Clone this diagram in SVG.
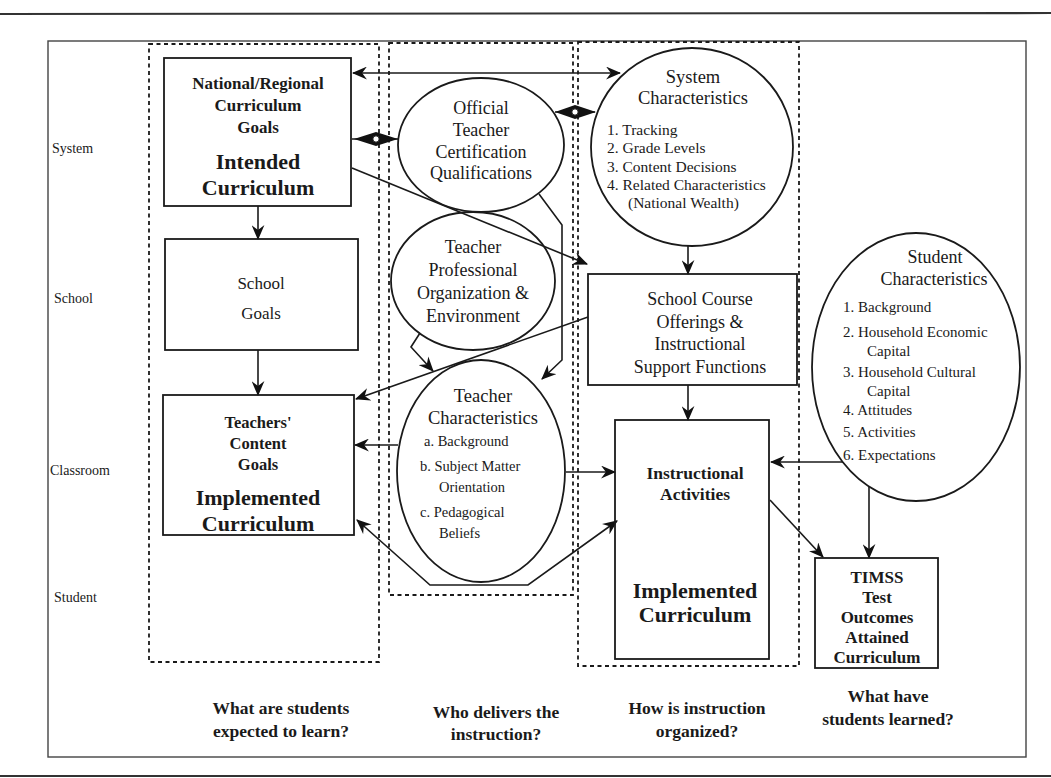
<svg xmlns="http://www.w3.org/2000/svg" width="1051" height="778" viewBox="0 0 1051 778">
<defs>
<marker id="ah" viewBox="0 0 14 12" refX="13" refY="6" markerWidth="15" markerHeight="13" markerUnits="userSpaceOnUse" orient="auto-start-reverse">
<path d="M0,0 L14,6 L0,12 L4.5,6 z" fill="#111"/>
</marker>
</defs>
<style>
text{font-family:"Liberation Serif","Times New Roman",serif;fill:#1a1a1a;dominant-baseline:central}
.c{text-anchor:middle}
.b{font-weight:bold}
.node{fill:none;stroke:#1a1a1a;stroke-width:1.8}
.dash{fill:none;stroke:#1a1a1a;stroke-width:1.8;stroke-dasharray:4 3.5}
.con{fill:none;stroke:#1a1a1a;stroke-width:1.6}
.ar{marker-end:url(#ah)}
.lab{font-size:14px}
</style>
<rect width="1051" height="778" fill="#fff"/>
<line x1="0" y1="14" x2="1051" y2="13" stroke="#333" stroke-width="2.2"/>
<line x1="0" y1="776" x2="1051" y2="776" stroke="#333" stroke-width="2.2"/>
<rect x="48" y="41" width="978" height="716" fill="none" stroke="#444" stroke-width="1.4"/>

<g id="columns">
<rect class="dash" x="149" y="44" width="230" height="618"/>
<rect class="dash" x="389" y="43" width="184" height="552"/>
<rect class="dash" x="578" y="42" width="221" height="624"/>
</g>

<g id="rowlabels" class="lab">
<text x="52" y="148">System</text>
<text x="54" y="298">School</text>
<text x="50" y="470">Classroom</text>
<text x="54" y="597">Student</text>
</g>

<g id="connectors">
<line class="con" x1="353" y1="73" x2="620" y2="73" marker-start="url(#ah)" marker-end="url(#ah)"/>
<line class="con" x1="352" y1="139" x2="398" y2="139"/>
<polygon points="354,139 376,132 398,139 376,146" fill="#111"/>
<circle cx="376" cy="139" r="3.2" fill="#fff" stroke="#111" stroke-width="1"/>
<line class="con" x1="555" y1="112" x2="595" y2="112"/>
<polygon points="555,112 575,105 596,112 575,119" fill="#111"/>
<circle cx="575" cy="112" r="3.2" fill="#fff" stroke="#111" stroke-width="1"/>
<line class="con ar" x1="352" y1="168" x2="587" y2="264"/>
<polyline class="con ar" points="539,194 562,225 562,360 542,379"/>
<polyline class="con ar" points="420,333 411,347 433,371"/>
<line class="con ar" x1="588" y1="317" x2="356" y2="399"/>
<line class="con ar" x1="398" y1="445" x2="355" y2="445"/>
<line class="con ar" x1="566" y1="472" x2="615" y2="472"/>
<polyline class="con ar" points="357,520 430,585 528,585 617,521" marker-start="url(#ah)"/>
<line class="con ar" x1="843" y1="462" x2="771" y2="462"/>
<line class="con ar" x1="770" y1="500" x2="823" y2="557"/>
<line class="con ar" x1="869" y1="487" x2="869" y2="558"/>
<line class="con ar" x1="258" y1="206" x2="258" y2="239"/>
<line class="con ar" x1="258" y1="350" x2="258" y2="395"/>
<line class="con ar" x1="688" y1="246" x2="688" y2="274"/>
<line class="con ar" x1="688" y1="385" x2="688" y2="420"/>
</g>

<g id="national">
<rect class="node" x="164" y="58" width="187" height="148"/>
<text class="c b" x="258" y="83" font-size="17">National/Regional</text>
<text class="c b" x="258" y="105" font-size="17">Curriculum</text>
<text class="c b" x="258" y="127" font-size="17">Goals</text>
<text class="c b" x="258" y="161" font-size="22">Intended</text>
<text class="c b" x="258" y="187" font-size="22">Curriculum</text>
</g>

<g id="schoolgoals">
<rect class="node" x="165" y="239" width="193" height="111"/>
<text class="c" x="261" y="283" font-size="17">School</text>
<text class="c" x="261" y="313" font-size="17">Goals</text>
</g>

<g id="teachersgoals">
<rect class="node" x="163" y="395" width="191" height="140"/>
<text class="c b" x="258" y="422" font-size="16.5">Teachers'</text>
<text class="c b" x="258" y="443" font-size="16.5">Content</text>
<text class="c b" x="258" y="464" font-size="16.5">Goals</text>
<text class="c b" x="258" y="497" font-size="22">Implemented</text>
<text class="c b" x="258" y="523" font-size="22">Curriculum</text>
</g>

<g id="official">
<ellipse class="node" cx="481" cy="145" rx="83" ry="67"/>
<text class="c" x="481" y="108" font-size="18">Official</text>
<text class="c" x="481" y="130" font-size="18">Teacher</text>
<text class="c" x="481" y="152" font-size="18">Certification</text>
<text class="c" x="481" y="173" font-size="18">Qualifications</text>
</g>

<g id="professional">
<ellipse class="node" cx="473" cy="281" rx="82" ry="69"/>
<text class="c" x="473" y="247" font-size="18">Teacher</text>
<text class="c" x="473" y="270" font-size="18">Professional</text>
<text class="c" x="473" y="293" font-size="18">Organization &amp;</text>
<text class="c" x="473" y="316" font-size="18">Environment</text>
</g>

<g id="teacherchar">
<ellipse class="node" cx="481" cy="471" rx="84" ry="111"/>
<text class="c" x="483" y="396" font-size="18.5">Teacher</text>
<text class="c" x="483" y="418" font-size="18.5">Characteristics</text>
<text x="424" y="441" font-size="14.5">a.  Background</text>
<text x="420" y="466" font-size="14.5">b.  Subject Matter</text>
<text x="439" y="487" font-size="14.5">Orientation</text>
<text x="420" y="512" font-size="14.5">c.  Pedagogical</text>
<text x="439" y="533" font-size="14.5">Beliefs</text>
</g>

<g id="systemchar">
<ellipse class="node" cx="692" cy="147" rx="101" ry="99"/>
<text class="c" x="693" y="77" font-size="18.5">System</text>
<text class="c" x="693" y="98" font-size="18.5">Characteristics</text>
<text x="607" y="129" font-size="15.5">1.  Tracking</text>
<text x="607" y="147" font-size="15.5">2.  Grade Levels</text>
<text x="607" y="166" font-size="15.5">3.  Content Decisions</text>
<text x="607" y="184" font-size="15.5">4.  Related Characteristics</text>
<text x="628" y="202" font-size="15.5">(National Wealth)</text>
</g>

<g id="schoolcourse">
<rect class="node" x="588" y="274" width="209" height="111"/>
<text class="c" x="700" y="299" font-size="18">School Course</text>
<text class="c" x="700" y="322" font-size="18">Offerings &amp;</text>
<text class="c" x="700" y="344" font-size="18">Instructional</text>
<text class="c" x="700" y="367" font-size="18">Support Functions</text>
</g>

<g id="instructional">
<rect class="node" x="615" y="420" width="154" height="239"/>
<text class="c b" x="695" y="473" font-size="17.5">Instructional</text>
<text class="c b" x="695" y="494" font-size="17.5">Activities</text>
<text class="c b" x="695" y="590" font-size="22">Implemented</text>
<text class="c b" x="695" y="614" font-size="22">Curriculum</text>
</g>

<g id="studentchar">
<ellipse class="node" cx="916" cy="367" rx="104" ry="134"/>
<text class="c" x="935" y="257" font-size="18">Student</text>
<text class="c" x="934" y="279" font-size="18">Characteristics</text>
<text x="843" y="307" font-size="15">1.  Background</text>
<text x="843" y="332" font-size="15">2.  Household Economic</text>
<text x="867" y="351" font-size="15">Capital</text>
<text x="843" y="372" font-size="15">3.  Household Cultural</text>
<text x="867" y="391" font-size="15">Capital</text>
<text x="843" y="410" font-size="15">4.  Attitudes</text>
<text x="843" y="432" font-size="15">5.  Activities</text>
<text x="843" y="455" font-size="15">6.  Expectations</text>
</g>

<g id="timss">
<rect class="node" x="815" y="558" width="123" height="110"/>
<text class="c b" x="877" y="577" font-size="17">TIMSS</text>
<text class="c b" x="877" y="597" font-size="17">Test</text>
<text class="c b" x="877" y="617" font-size="17">Outcomes</text>
<text class="c b" x="877" y="637" font-size="17">Attained</text>
<text class="c b" x="877" y="657" font-size="17">Curriculum</text>
</g>

<g id="questions" class="b" font-size="17.5">
<text class="c" x="281" y="708">What are students</text>
<text class="c" x="281" y="731">expected to learn?</text>
<text class="c" x="496" y="712">Who delivers the</text>
<text class="c" x="496" y="734">instruction?</text>
<text class="c" x="697" y="708">How is instruction</text>
<text class="c" x="697" y="731">organized?</text>
<text class="c" x="888" y="696">What have</text>
<text class="c" x="888" y="719">students learned?</text>
</g>
</svg>
